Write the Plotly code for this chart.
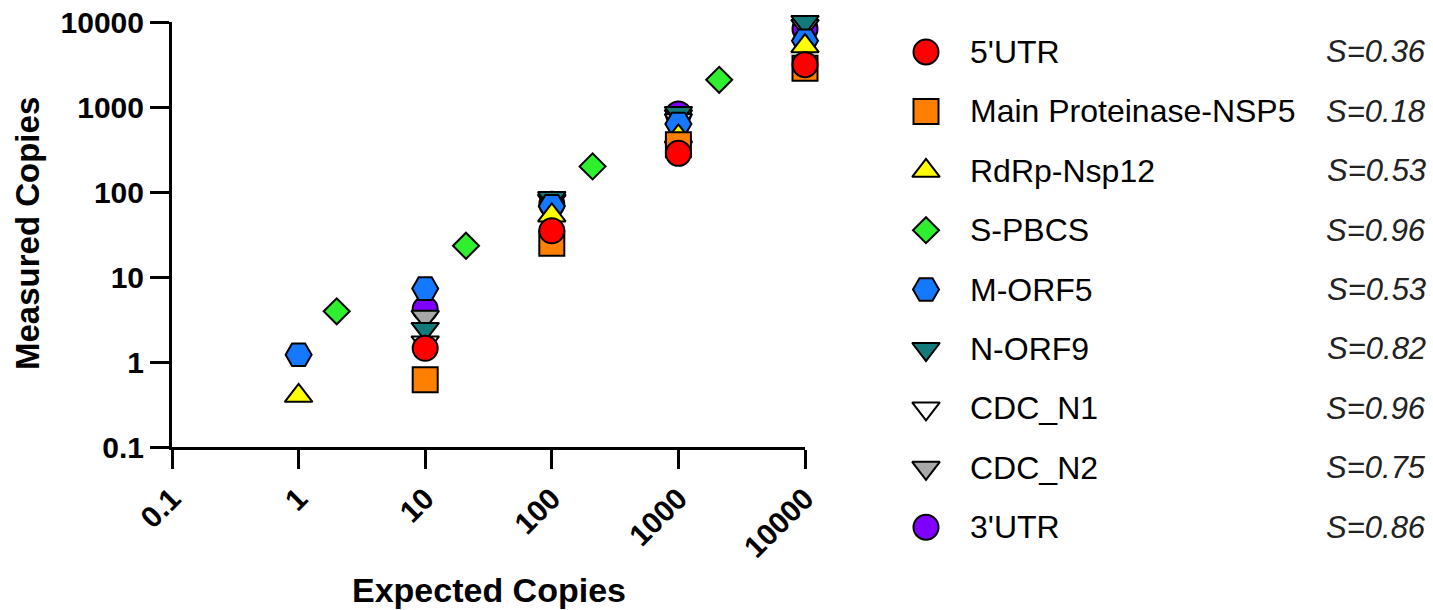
import plotly.graph_objects as go

# Expected vs measured copy numbers for each SARS-CoV-2 assay target
expected = [1, 10, 100, 1000, 10000]
expected_spbcs = [2, 21, 210, 2100]

utr5 = [None, 1.45, 35, 285, 3150]
nsp5 = [None, 0.62, 25, 360, 2850]
rdrp_nsp12 = [0.4, None, 53, 450, 5200]
s_pbcs = [3.95, 23.3, 200, 2090]
m_orf5 = [1.22, 7.3, 68, 630, 6000]
n_orf9 = [None, 2.45, 85, 850, 10000]
cdc_n1 = [None, 1.7, 80, 700, 12000]
cdc_n2 = [None, 3.4, 78, 780, 9000]
utr3 = [None, 4.2, 72, 830, 8300]

names = ["5'UTR", "Main Proteinase-NSP5", "RdRp-Nsp12", "S-PBCS", "M-ORF5",
         "N-ORF9", "CDC_N1", "CDC_N2", "3'UTR"]
s_values = [0.36, 0.18, 0.53, 0.96, 0.53, 0.82, 0.96, 0.75, 0.86]

tick_vals = [0.1, 1, 10, 100, 1000, 10000]
tick_text = ["0.1", "1", "10", "100", "1000", "10000"]

xs = [expected, expected, expected, expected_spbcs, expected,
      expected, expected, expected, expected]
ys = [utr5, nsp5, rdrp_nsp12, s_pbcs, m_orf5, n_orf9, cdc_n1, cdc_n2, utr3]

symbols = ["circle", "square", "triangle-up", "diamond", "hexagon2",
           "triangle-down", "triangle-down", "triangle-down", "circle"]
sizes = [25, 25, 24, 20, 26, 24, 24, 24, 25]
colors = ["#FF0000", "#FF8000", "#FFFF00", "#2EF02E", "#1479FF",
          "#127A7A", "#FFFFFF", "#A8A8A8", "#7F00FF"]

FONT = "Liberation Sans, Arial, Helvetica, sans-serif"
W, H = 1433, 610

fig = go.Figure()

# first series ends up on top: add in reverse order
for i in reversed(range(len(names))):
    fig.add_trace(go.Scatter(
        x=xs[i], y=ys[i], mode="markers", name=names[i], showlegend=False,
        cliponaxis=False,
        marker=dict(symbol=symbols[i], size=sizes[i], color=colors[i],
                    line=dict(color="black", width=2)),
        xaxis="x", yaxis="y",
    ))

# legend drawn on a hidden side axis, one row per series
rows = list(range(len(names)))
for i in rows:
    fig.add_trace(go.Scatter(
        x=[46], y=[i], mode="markers", showlegend=False, cliponaxis=False,
        marker=dict(symbol=symbols[i], size=sizes[i], color=colors[i],
                    line=dict(color="black", width=2)),
        xaxis="x2", yaxis="y2",
    ))

annotations = []
for i in rows:
    annotations.append(dict(
        x=88, y=i, xref="x2", yref="y2", text=names[i], showarrow=False,
        xanchor="left", yanchor="middle",
        font=dict(family=FONT, size=32, color="black")))
    annotations.append(dict(
        x=548, y=i, xref="x2", yref="y2", text=f"S={s_values[i]:.2f}",
        showarrow=False, xanchor="right", yanchor="middle",
        font=dict(family=FONT, size=31, color="#222222", style="italic")))

annotations.append(dict(
    x=27 / W, y=(H - 234) / H, xref="paper", yref="paper",
    text="Measured Copies", textangle=-90, showarrow=False,
    xanchor="center", yanchor="middle",
    font=dict(family=FONT, size=33, color="black", weight="bold")))
annotations.append(dict(
    x=489 / W, y=(H - 590) / H, xref="paper", yref="paper",
    text="Expected Copies", showarrow=False,
    xanchor="center", yanchor="middle",
    font=dict(family=FONT, size=34, color="black", weight="bold")))

axis_common = dict(
    type="log", range=[-1, 4], tickvals=tick_vals, ticktext=tick_text,
    showline=True, linecolor="black", linewidth=3, mirror=False,
    ticks="outside", ticklen=19, tickwidth=3, tickcolor="black",
    showgrid=False, zeroline=False, automargin=False,
    tickfont=dict(family=FONT, size=30, color="black", weight="bold"),
)

fig.update_layout(
    width=W, height=H, template="none",
    paper_bgcolor="white", plot_bgcolor="white",
    margin=dict(l=0, r=0, t=0, b=0),
    showlegend=False,
    xaxis=dict(domain=[172 / W, 805 / W], anchor="y", tickangle=-45,
               **axis_common),
    yaxis=dict(domain=[(H - 447) / H, (H - 22) / H], anchor="x",
               **axis_common),
    xaxis2=dict(domain=[880 / W, 1.0], range=[0, 553], visible=False,
                anchor="y2", fixedrange=True),
    yaxis2=dict(domain=[0, 1], range=[9.394, -0.875], visible=False,
                anchor="x2", fixedrange=True),
    annotations=annotations,
)

fig.write_html("out.html")
